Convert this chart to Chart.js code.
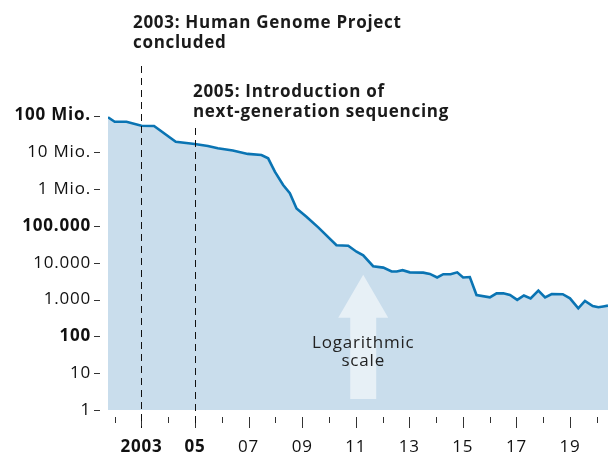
<!DOCTYPE html>
<html>
<head>
<meta charset="utf-8">
<script src="https://cdn.jsdelivr.net/npm/chart.js@4"></script>
<style>
  html, body { margin: 0; padding: 0; background: #fff; }
</style>
</head>
<body>
<canvas id="costChart" width="608" height="453"></canvas>
<script>
// === Data ===
// year as decimal, cost per genome in dollars
const years = [
  2001.75, 2002.0, 2002.44, 2003.0, 2003.47, 2004.28, 2004.99, 2005.48, 2005.85, 2006.41,
  2006.97, 2007.48, 2007.73, 2007.98, 2008.29, 2008.54, 2008.79, 2009.16, 2009.6, 2010.28,
  2010.72, 2011.03, 2011.28, 2011.65, 2012.03, 2012.34, 2012.53, 2012.75, 2013.02, 2013.52,
  2013.77, 2014.04, 2014.27, 2014.54, 2014.79, 2015.01, 2015.26, 2015.51, 2016.01, 2016.26,
  2016.51, 2016.76, 2017.03, 2017.28, 2017.53, 2017.82, 2018.07, 2018.32, 2018.73, 2019.0,
  2019.31, 2019.56, 2019.85, 2020.06, 2020.24, 2020.42
];
const costs = [
  90000000, 68000000, 68000000, 53000000, 52000000, 19500000, 17000000, 15000000, 13000000, 11200000,
  9100000, 8500000, 6900000, 3000000, 1300000, 780000, 300000, 178000, 92000, 30000,
  29000, 20000, 16000, 8100, 7400, 5800, 5800, 6300, 5500, 5400,
  5000, 4000, 4900, 4900, 5500, 4000, 4100, 1330, 1150, 1480,
  1480, 1330, 980, 1290, 1080, 1750, 1150, 1420, 1400, 1080,
  580, 920, 670, 620, 650, 685
];

// axis ticks
const xLabelYears = [2003, 2005, 2007, 2009, 2011, 2013, 2015, 2017, 2019];
const xTickYears = [2002, 2003, 2004, 2005, 2006, 2007, 2008, 2009, 2010, 2011,
                    2012, 2013, 2014, 2015, 2016, 2017, 2018, 2019, 2020];
const boldXLabels = [2003, 2005];
const yTickValues = [1, 10, 100, 1000, 10000, 100000, 1000000, 10000000, 100000000];
const yTickLabels = ["1", "10", "100", "1.000", "10.000", "100.000", "1 Mio.", "10 Mio.", "100 Mio."];
const boldYTicks = [100, 100000, 100000000];

// annotations
const markYears = [2003, 2005];
const markTexts = [
  ["2003: Human Genome Project", "concluded"],
  ["2005: Introduction of", "next-generation sequencing"]
];
const arrowText = ["Logarithmic", "scale"];

const FONT = "'Open Sans', 'Noto Sans', sans-serif";
const LINE_BLUE = "#0a74b3";
const FILL_BLUE = "#c9ddec";

// === Slightly wider lettering for all chart text ===
const spacing = {
  id: "spacing",
  beforeDraw(chart) {
    chart.ctx.letterSpacing = "0.8px";
  }
};

// === Annotation plugin: dashed lines, tick marks, arrow, texts ===
const annotations = {
  id: "annotations",
  afterDatasetsDraw(chart) {
    const ctx = chart.ctx;
    const xs = chart.scales.x;
    const ys = chart.scales.y;
    const area = chart.chartArea;

    ctx.save();

    // --- arrow "Logarithmic scale" ---
    const ax = xs.getPixelForValue(2011.28);
    const tipY = ys.getPixelForValue(4700);
    const headY = ys.getPixelForValue(320);
    const tailY = ys.getPixelForValue(2);
    ctx.fillStyle = "rgba(255,255,255,0.55)";
    ctx.beginPath();
    ctx.moveTo(ax, tipY);
    ctx.lineTo(ax + 25, headY);
    ctx.lineTo(ax + 13, headY);
    ctx.lineTo(ax + 13, tailY);
    ctx.lineTo(ax - 13, tailY);
    ctx.lineTo(ax - 13, headY);
    ctx.lineTo(ax - 25, headY);
    ctx.closePath();
    ctx.fill();

    ctx.fillStyle = "#222";
    ctx.font = "17px " + FONT;
    ctx.textAlign = "center";
    ctx.textBaseline = "alphabetic";
    ctx.fillText(arrowText[0], ax, 348);
    ctx.fillText(arrowText[1], ax, 366);

    // --- x tick marks ---
    ctx.strokeStyle = "#333";
    ctx.lineWidth = 1;
    xTickYears.forEach(yr => {
      const px = Math.round(xs.getPixelForValue(yr)) + 0.5;
      const long = xLabelYears.includes(yr);
      ctx.beginPath();
      ctx.moveTo(px, area.bottom + 7);
      ctx.lineTo(px, area.bottom + (long ? 18 : 13));
      ctx.stroke();
    });

    // --- y tick dashes ---
    yTickValues.forEach(v => {
      const py = Math.round(ys.getPixelForValue(v)) + 0.5;
      ctx.beginPath();
      ctx.moveTo(area.left - 14, py);
      ctx.lineTo(area.left - 8, py);
      ctx.stroke();
    });

    // --- dashed event lines ---
    const lineTops = [66, 128];
    ctx.strokeStyle = "#111";
    ctx.setLineDash([7, 5]);
    markYears.forEach((yr, i) => {
      const px = Math.round(xs.getPixelForValue(yr)) + 0.5;
      ctx.beginPath();
      ctx.moveTo(px, lineTops[i]);
      ctx.lineTo(px, area.bottom + 18);
      ctx.stroke();
    });
    ctx.setLineDash([]);

    // --- event texts ---
    ctx.fillStyle = "#1a1a1a";
    ctx.font = "bold 17px " + FONT;
    ctx.textAlign = "left";
    ctx.letterSpacing = "0.7px";
    const textPos = [[133, 28], [193, 97]];
    markTexts.forEach((lines, i) => {
      lines.forEach((t, j) => ctx.fillText(t, textPos[i][0], textPos[i][1] + j * 20));
    });

    ctx.restore();
  }
};

function tickFont(boldList) {
  return c => ({
    family: FONT,
    size: 17,
    weight: c.tick && boldList.includes(c.tick.value) ? "bold" : "normal"
  });
}

// === Chart ===
const ctx = document.getElementById("costChart").getContext("2d");
const costChart = new Chart(ctx, {
  type: "line",
  data: {
    datasets: [{
      data: years.map((y, i) => ({ x: y, y: costs[i] })),
      borderColor: LINE_BLUE,
      backgroundColor: FILL_BLUE,
      borderWidth: 2.6,
      pointRadius: 0,
      tension: 0,
      fill: "start"
    }]
  },
  options: {
    responsive: false,
    animation: false,
    layout: { padding: { top: 78.8, right: 0, bottom: 0, left: 0 } },
    plugins: { legend: { display: false }, tooltip: { enabled: false } },
    scales: {
      x: {
        type: "linear",
        min: 2001.75,
        max: 2020.42,
        border: { display: false },
        grid: { display: false, drawTicks: false },
        afterBuildTicks: s => { s.ticks = xLabelYears.map(v => ({ value: v })); },
        afterFit: s => { s.height = 43; },
        ticks: {
          autoSkip: false,
          maxRotation: 0,
          padding: 27,
          color: "#111",
          font: tickFont(boldXLabels),
          callback: v => (v === 2003 ? "2003" : String(v).slice(2))
        }
      },
      y: {
        type: "logarithmic",
        min: 1,
        max: 1000000000,
        border: { display: false },
        grid: { display: false, drawTicks: false },
        afterBuildTicks: s => { s.ticks = yTickValues.map(v => ({ value: v })); },
        afterFit: s => { s.width = 108; },
        ticks: {
          autoSkip: false,
          padding: 17,
          color: "#111",
          font: tickFont(boldYTicks),
          callback: v => yTickLabels[yTickValues.indexOf(v)]
        }
      }
    }
  },
  plugins: [spacing, annotations]
});
</script>
</body>
</html>
